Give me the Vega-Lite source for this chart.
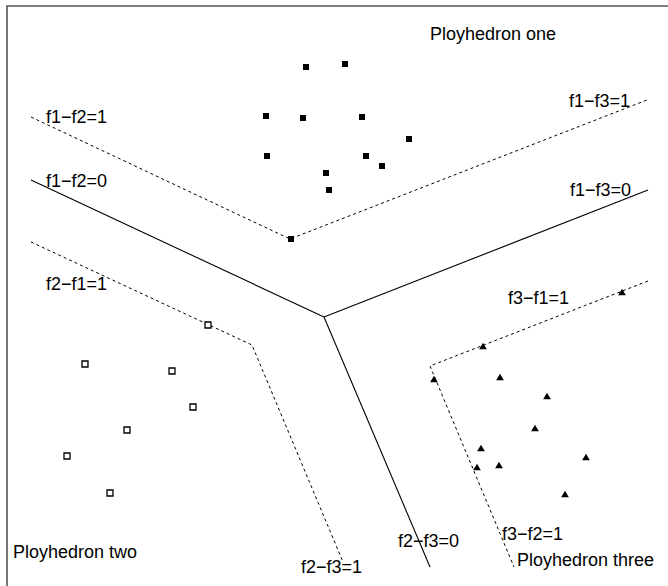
{
  "$schema": "https://vega.github.io/schema/vega-lite/v6.json",
  "width": 668,
  "height": 586,
  "padding": 0,
  "autosize": {"type": "none"},
  "background": "white",
  "config": {"view": {"stroke": null}},
  "datasets": {
    "lines": [
      {"id": "frame", "kind": "frame", "ord": 1, "x": 7, "y": 600},
      {"id": "frame", "kind": "frame", "ord": 2, "x": 7, "y": 6},
      {"id": "frame", "kind": "frame", "ord": 3, "x": 680, "y": 6},
      {"id": "f1-f2=0", "kind": "solid", "ord": 1, "x": 31, "y": 180},
      {"id": "f1-f2=0", "kind": "solid", "ord": 2, "x": 324, "y": 317},
      {"id": "f1-f3=0", "kind": "solid", "ord": 1, "x": 324, "y": 317},
      {"id": "f1-f3=0", "kind": "solid", "ord": 2, "x": 648, "y": 190},
      {"id": "f2-f3=0", "kind": "solid", "ord": 1, "x": 324, "y": 317},
      {"id": "f2-f3=0", "kind": "solid", "ord": 2, "x": 430, "y": 567},
      {"id": "one", "kind": "dashed", "ord": 1, "x": 31, "y": 117},
      {"id": "one", "kind": "dashed", "ord": 2, "x": 290, "y": 239},
      {"id": "one", "kind": "dashed", "ord": 3, "x": 647, "y": 100},
      {"id": "two", "kind": "dashed", "ord": 1, "x": 31, "y": 242},
      {"id": "two", "kind": "dashed", "ord": 2, "x": 252, "y": 345},
      {"id": "two", "kind": "dashed", "ord": 3, "x": 343, "y": 562},
      {"id": "three", "kind": "dashed", "ord": 1, "x": 648, "y": 281},
      {"id": "three", "kind": "dashed", "ord": 2, "x": 430, "y": 366},
      {"id": "three", "kind": "dashed", "ord": 3, "x": 514, "y": 567}
    ],
    "points": [
      {"g": "one", "x": 306, "y": 67},
      {"g": "one", "x": 345, "y": 64},
      {"g": "one", "x": 266, "y": 116},
      {"g": "one", "x": 303, "y": 118},
      {"g": "one", "x": 362, "y": 117},
      {"g": "one", "x": 409, "y": 139},
      {"g": "one", "x": 267, "y": 156},
      {"g": "one", "x": 366, "y": 156},
      {"g": "one", "x": 382, "y": 166},
      {"g": "one", "x": 326, "y": 173},
      {"g": "one", "x": 329, "y": 190},
      {"g": "one", "x": 291, "y": 239},
      {"g": "two", "x": 208, "y": 325},
      {"g": "two", "x": 85, "y": 364},
      {"g": "two", "x": 172, "y": 371},
      {"g": "two", "x": 193, "y": 407},
      {"g": "two", "x": 127, "y": 430},
      {"g": "two", "x": 67, "y": 456},
      {"g": "two", "x": 110, "y": 493},
      {"g": "three", "x": 622, "y": 292},
      {"g": "three", "x": 483, "y": 346},
      {"g": "three", "x": 434, "y": 379},
      {"g": "three", "x": 500, "y": 377},
      {"g": "three", "x": 547, "y": 396},
      {"g": "three", "x": 535, "y": 428},
      {"g": "three", "x": 481, "y": 448},
      {"g": "three", "x": 477, "y": 467},
      {"g": "three", "x": 499, "y": 465},
      {"g": "three", "x": 586, "y": 457},
      {"g": "three", "x": 565, "y": 494}
    ],
    "labels": [
      {"t": "Ployhedron one", "x": 430, "y": 35},
      {"t": "f1−f2=1", "x": 46, "y": 118},
      {"t": "f1−f2=0", "x": 46, "y": 182},
      {"t": "f2−f1=1", "x": 46, "y": 285},
      {"t": "f1−f3=1", "x": 569, "y": 102},
      {"t": "f1−f3=0", "x": 570, "y": 191},
      {"t": "f3−f1=1", "x": 508, "y": 299},
      {"t": "f3−f2=1", "x": 502, "y": 535},
      {"t": "Ployhedron three", "x": 517, "y": 561},
      {"t": "f2−f3=0", "x": 398, "y": 542},
      {"t": "f2−f3=1", "x": 301, "y": 568},
      {"t": "Ployhedron two", "x": 13, "y": 553}
    ]
  },
  "encoding": {
    "x": {"field": "x", "type": "quantitative", "scale": {"domain": [0, 668], "nice": false, "zero": false}, "axis": null},
    "y": {"field": "y", "type": "quantitative", "scale": {"domain": [0, 586], "nice": false, "zero": false, "reverse": true}, "axis": null}
  },
  "layer": [
    {
      "data": {"name": "lines"},
      "transform": [{"filter": "datum.kind === 'frame'"}],
      "mark": {"type": "line", "stroke": "#555555", "strokeWidth": 1.6, "clip": true},
      "encoding": {"detail": {"field": "id"}, "order": {"field": "ord", "type": "quantitative"}}
    },
    {
      "data": {"name": "lines"},
      "transform": [{"filter": "datum.kind === 'solid'"}],
      "mark": {"type": "line", "stroke": "black", "strokeWidth": 1.1},
      "encoding": {"detail": {"field": "id"}, "order": {"field": "ord", "type": "quantitative"}}
    },
    {
      "data": {"name": "lines"},
      "transform": [{"filter": "datum.kind === 'dashed'"}],
      "mark": {"type": "line", "stroke": "black", "strokeWidth": 1, "strokeDash": [3, 3]},
      "encoding": {"detail": {"field": "id"}, "order": {"field": "ord", "type": "quantitative"}}
    },
    {
      "data": {"name": "points"},
      "transform": [{"filter": "datum.g === 'one'"}],
      "mark": {"type": "point", "shape": "square", "filled": true, "fill": "black", "size": 36, "opacity": 1}
    },
    {
      "data": {"name": "points"},
      "transform": [{"filter": "datum.g === 'two'"}],
      "mark": {"type": "point", "shape": "square", "filled": false, "fill": "white", "stroke": "black", "strokeWidth": 1.3, "size": 36, "opacity": 1}
    },
    {
      "data": {"name": "points"},
      "transform": [{"filter": "datum.g === 'three'"}],
      "mark": {"type": "point", "shape": "triangle-up", "filled": true, "fill": "black", "size": 60, "opacity": 1}
    },
    {
      "data": {"name": "labels"},
      "mark": {"type": "text", "align": "left", "baseline": "middle", "font": "Liberation Sans", "fontSize": 18, "fill": "black"},
      "encoding": {"text": {"field": "t"}}
    }
  ]
}
